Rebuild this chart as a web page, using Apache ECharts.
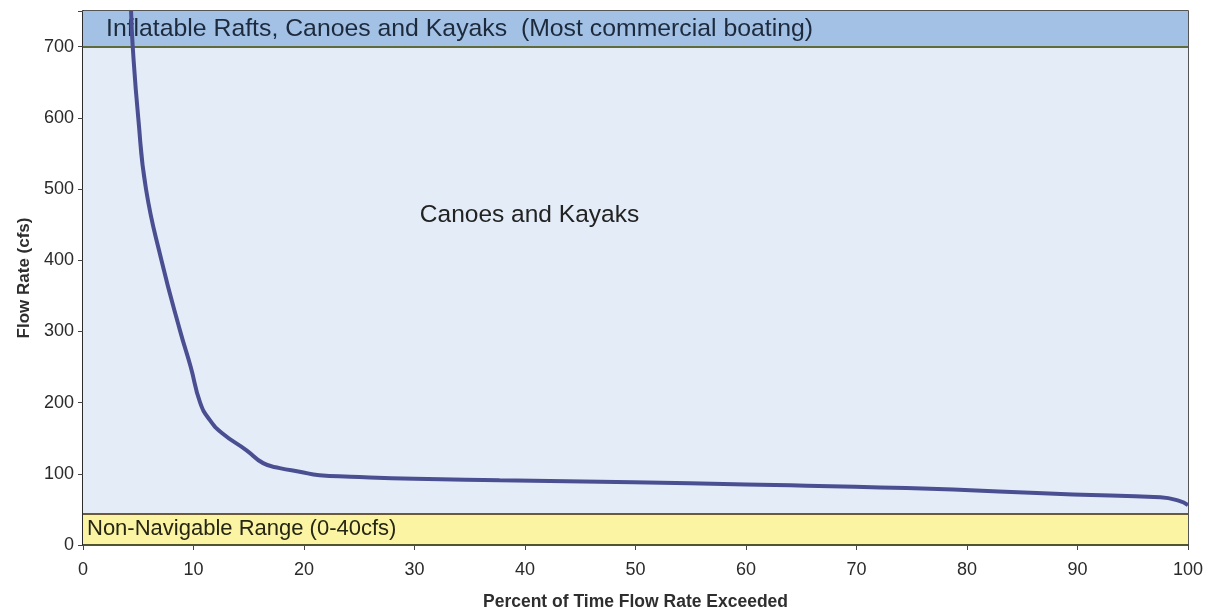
<!DOCTYPE html>
<html>
<head>
<meta charset="utf-8">
<script src="https://cdn.jsdelivr.net/npm/echarts@6/dist/echarts.min.js"></script>
<style>
html,body{margin:0;padding:0;background:#fff;}
#c{width:1206px;height:609px;}
</style>
</head>
<body>
<div id="c"></div>
<script>
// Flow duration curve data
const pctExceeded = [4.35, 4.5, 5.0, 5.7, 7.1, 8.8, 9.75, 10.6, 11.45, 12.6, 14.8, 16.3, 17.8, 19.6, 21.4, 24.2, 30, 37.7, 49.8, 60, 74.5, 89.6, 97.5, 99.2, 100];
const flowCfs     = [750, 700, 600, 500, 400, 300, 250, 200, 176, 157, 133, 115, 108, 103, 98, 96, 93, 91, 88, 85, 80, 71, 67, 62, 56];

// Boating ranges (cfs)
const bandTop = [700, 750];
const bandMid = [44, 700];
const bandLow = [0, 44];
const bandLabels = ["Inflatable Rafts, Canoes and Kayaks  (Most commercial boating)", "Canoes and Kayaks", "Non-Navigable Range (0-40cfs)"];

const xTicks = [0,10,20,30,40,50,60,70,80,90,100];
const yTicks = [0,100,200,300,400,500,600,700];

const font = "Liberation Sans, Arial, sans-serif";
const chart = echarts.init(document.getElementById('c'));
chart.setOption({
  animation: false,
  backgroundColor: '#ffffff',
  grid: {left: 83, right: 18, top: 11, bottom: 64, containLabel: false, outerBoundsMode: 'none',
    show: true, borderColor: '#1e1e1e', borderWidth: 1.5, backgroundColor: 'transparent'},
  xAxis: {
    type: 'value', min: 0, max: 100, interval: 10,
    name: 'Percent of Time Flow Rate Exceeded', nameLocation: 'middle', nameGap: 48,
    nameTextStyle: {fontFamily: font, fontSize: 17.5, fontWeight: 'bold', color: '#2e2e2e'},
    axisLine: {show: true, lineStyle: {color: '#1e1e1e', width: 1.5}},
    axisTick: {show: true, length: 5, lineStyle: {color: '#444'}},
    axisLabel: {fontFamily: font, fontSize: 18, color: '#2a2a2a', margin: 16,
      formatter: v => xTicks.includes(v) ? String(v) : ''},
    splitLine: {show: false}
  },
  yAxis: {
    type: 'value', min: 0, max: 750, interval: 100,
    name: 'Flow Rate (cfs)', nameLocation: 'middle', nameGap: 50, nameRotate: 90,
    nameTextStyle: {fontFamily: font, fontSize: 17, fontWeight: 'bold', color: '#2e2e2e'},
    axisLine: {show: true, lineStyle: {color: '#1e1e1e', width: 1.5}},
    axisTick: {show: true, length: 5, lineStyle: {color: '#444'}},
    axisLabel: {fontFamily: font, fontSize: 18, color: '#2a2a2a', margin: 9,
      formatter: v => yTicks.includes(v) ? String(v) : ''},
    splitLine: {show: true, lineStyle: {color: '#a0a0b4', type: [4, 3], width: 1}}
  },
  series: [
    {
      type: 'line', name: 'bands', data: [], silent: true, z: 1,
      markArea: {
        silent: true,
        data: [
          [{yAxis: bandTop[0], itemStyle: {color: '#a3c0e5'},
            label: {show: true, position: 'insideLeft', distance: 23, formatter: bandLabels[0],
              fontFamily: font, fontSize: 24.8, color: '#1c2a3c'}},
           {yAxis: bandTop[1]}],
          [{yAxis: bandMid[0], itemStyle: {color: '#e4ecf7'},
            label: {show: true, position: 'insideTop', distance: 156, offset: [-106, 0], formatter: bandLabels[1],
              fontFamily: font, fontSize: 24.5, color: '#222'}},
           {yAxis: bandMid[1]}],
          [{yAxis: bandLow[0], itemStyle: {color: '#faf4a3'},
            label: {show: true, position: 'insideLeft', distance: 4, formatter: bandLabels[2],
              fontFamily: font, fontSize: 22, color: '#262614'}},
           {yAxis: bandLow[1]}]
        ]
      },
      markLine: {
        silent: true, symbol: 'none', label: {show: false},
        data: [
          {yAxis: bandTop[0], lineStyle: {color: '#5f6b3a', width: 2, type: 'solid'}},
          {yAxis: bandLow[1], lineStyle: {color: '#6b5a3a', width: 2, type: 'solid'}},
          {yAxis: 0, lineStyle: {color: '#4f5530', width: 2, type: 'solid'}}
        ]
      }
    },
    {
      type: 'line', name: 'Flow', z: 5,
      data: pctExceeded.map((x, i) => [x, flowCfs[i]]),
      smooth: 0.5, showSymbol: false, clip: true,
      lineStyle: {color: '#4a4f92', width: 4}
    }
  ]
});
</script>
</body>
</html>
